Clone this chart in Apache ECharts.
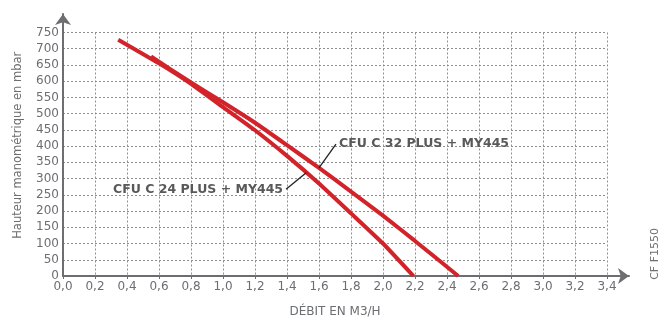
<!DOCTYPE html>
<html>
<head>
    <meta charset="utf-8">
    <title>CF F1550</title>
    <script src="https://cdn.jsdelivr.net/npm/echarts@6/dist/echarts.min.js"></script>
</head>
<body style="margin:0">
    <div id="main" style="width: 661px;height:317px;"></div>
<script type="text/javascript">
    // debit (m3/h) / hauteur (mbar)
    var c32 = [[0.55, 676], [0.8, 596], [1.0, 535], [1.2, 472], [1.4, 403], [1.6, 333],
               [1.8, 260], [2.0, 186], [2.2, 108], [2.47, 0]];
    var c24 = [[0.345, 728], [0.6, 655], [0.8, 592], [1.0, 520], [1.2, 449], [1.4, 370],
               [1.6, 285], [1.8, 193], [2.0, 100], [2.19, 0]];
    var lead32 = [[1.706, 406], [1.6, 333]];
    var lead24 = [[1.394, 267], [1.52, 318]];
    var label32 = 'CFU C 32 PLUS + MY445';
    var label24 = 'CFU C 24 PLUS + MY445';

    var grey = '#6d6e71';
    var red = '#d2232a';
    var font = 'DejaVu Sans';

    var myChart = echarts.init(document.getElementById('main'));

    var option = {
        backgroundColor: '#fff',
        animation: false,
        textStyle: { fontFamily: font },
        grid: [
            { left: 63, right: 54, top: 32.5, bottom: 41, containLabel: false, outerBoundsMode: 'none' },
            // only carries the two arrowed axis lines
            { left: 63, right: 32, top: 14, bottom: 41, containLabel: false, outerBoundsMode: 'none' }
        ],
        xAxis: [{
            type: 'value', gridIndex: 0, min: 0, max: 3.4, interval: 0.2,
            name: 'DÉBIT EN M3/H', nameLocation: 'middle', nameGap: 30,
            nameTextStyle: { color: grey, fontSize: 12 },
            axisLine: { show: false },
            axisTick: { show: true, length: 3, lineStyle: { color: grey } },
            axisLabel: {
                color: grey, fontSize: 12, margin: 5,
                formatter: function (v) { return v.toFixed(1).replace('.', ','); }
            },
            splitLine: { show: true, lineStyle: { color: '#8f8f8f', type: [2, 2], width: 1 } }
        }, {
            type: 'value', gridIndex: 1, min: 0, max: 1,
            axisLine: { show: true, symbol: ['none', 'arrow'], symbolSize: [12, 11],
                        lineStyle: { color: grey, width: 2 } },
            axisTick: { show: false }, axisLabel: { show: false }, splitLine: { show: false }
        }],
        yAxis: [{
            type: 'value', gridIndex: 0, min: 0, max: 750, interval: 50,
            name: 'Hauteur manométrique en mbar', nameLocation: 'middle', nameGap: 39,
            nameTextStyle: { color: grey, fontSize: 11.5, padding: [0, 0, 0, 18] },
            axisLine: { show: false },
            axisTick: { show: false },
            axisLabel: { color: grey, fontSize: 12, margin: 4 },
            splitLine: { show: true, lineStyle: { color: '#8f8f8f', type: [2, 2], width: 1 } }
        }, {
            type: 'value', gridIndex: 1, min: 0, max: 1,
            axisLine: { show: true, symbol: ['none', 'arrow'], symbolSize: [12, 11],
                        lineStyle: { color: grey, width: 2 } },
            axisTick: { show: false }, axisLabel: { show: false }, splitLine: { show: false }
        }],
        series: [
            {
                name: label32, type: 'line', data: c32, smooth: 0.15,
                symbol: 'none', lineStyle: { color: red, width: 4 }, z: 3
            },
            {
                name: label24, type: 'line', data: c24, smooth: 0.15,
                symbol: 'none', lineStyle: { color: red, width: 4 }, z: 3
            },
            {
                type: 'line', symbol: 'circle', symbolSize: 0, showSymbol: true,
                lineStyle: { color: '#222', width: 1.3 }, z: 4,
                data: [
                    { value: lead32[0], label: { show: true, position: 'right', distance: 3, formatter: label32 } },
                    { value: lead32[1] }
                ],
                label: { color: '#58595b', fontWeight: 'bold', fontSize: 12.5 }
            },
            {
                type: 'line', symbol: 'circle', symbolSize: 0, showSymbol: true,
                lineStyle: { color: '#222', width: 1.3 }, z: 4,
                data: [
                    { value: lead24[0], label: { show: true, position: 'left', distance: 3, formatter: label24 } },
                    { value: lead24[1] }
                ],
                label: { color: '#58595b', fontWeight: 'bold', fontSize: 12.5 }
            }
        ],
        graphic: [{
            type: 'text', left: 650, top: 228, rotation: Math.PI / 2,
            style: { text: 'CF F1550', fill: grey, font: '11px ' + font }
        }]
    };
    myChart.setOption(option);
</script>
</body>
</html>
